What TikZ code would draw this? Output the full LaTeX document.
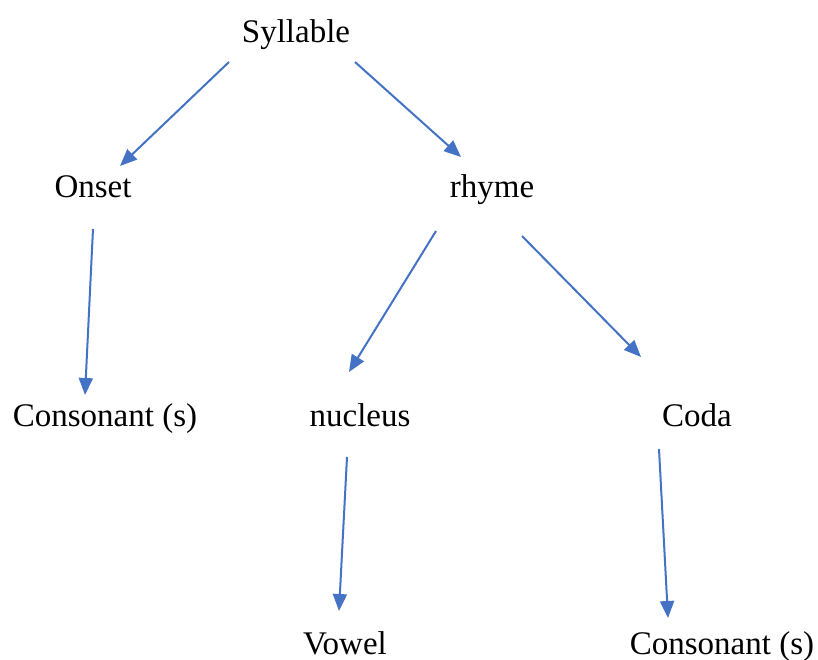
\documentclass[tikz,border=0pt]{standalone}
\usepackage{fontspec}
\setmainfont{Liberation Serif}
\newfontfamily\wordfont{Liberation Serif}
\usepackage{tikz}
\usetikzlibrary{calc,arrows.meta}

\definecolor{arrowblue}{HTML}{4472C4}

\begin{document}
\begin{tikzpicture}[x=1pt,y=-1pt,
  word/.style={anchor=base,inner sep=0pt,font=\wordfont\fontsize{33}{40}\selectfont},
  branch/.style={arrowblue,line width=2pt,-{Triangle[length=17pt,width=14pt]}}]
  \useasboundingbox (0,0) rectangle (818,660);

  \node[word] (syl) at (296,43) {Syllable};
  \node[word] (onset) at (93,198) {Onset};
  \node[word] (rhyme) at (492,198) {rhyme};
  \node[word] (cons1) at (105,426) {Consonant (s)};
  \node[word] (nucleus) at (360,426) {nucleus};
  \node[word] (coda) at (697,426) {Coda};
  \node[word] (vowel) at (345,654) {Vowel};
  \node[word] (cons2) at (722,654) {Consonant (s)};

  \draw[branch] ($(syl.base)+(-67,19)$) -- ($(onset.base)+(27,-32)$);
  \draw[branch] ($(syl.base)+(59,19)$) -- ($(rhyme.base)+(-31,-41)$);

  \draw[branch] ($(onset.base)+(0,31)$) -- ($(cons1.base)+(-20,-31)$);
  \draw[branch] ($(rhyme.base)+(-56,33)$) -- ($(nucleus.base)+(-11,-54)$);
  \draw[branch] ($(rhyme.base)+(30,38)$) -- ($(coda.base)+(-56,-69)$);

  \draw[branch] ($(nucleus.base)+(-13,31)$) -- ($(vowel.base)+(-6,-43)$);
  \draw[branch] ($(coda.base)+(-38,23)$) -- ($(cons2.base)+(-54,-36)$);

\end{tikzpicture}
\end{document}
